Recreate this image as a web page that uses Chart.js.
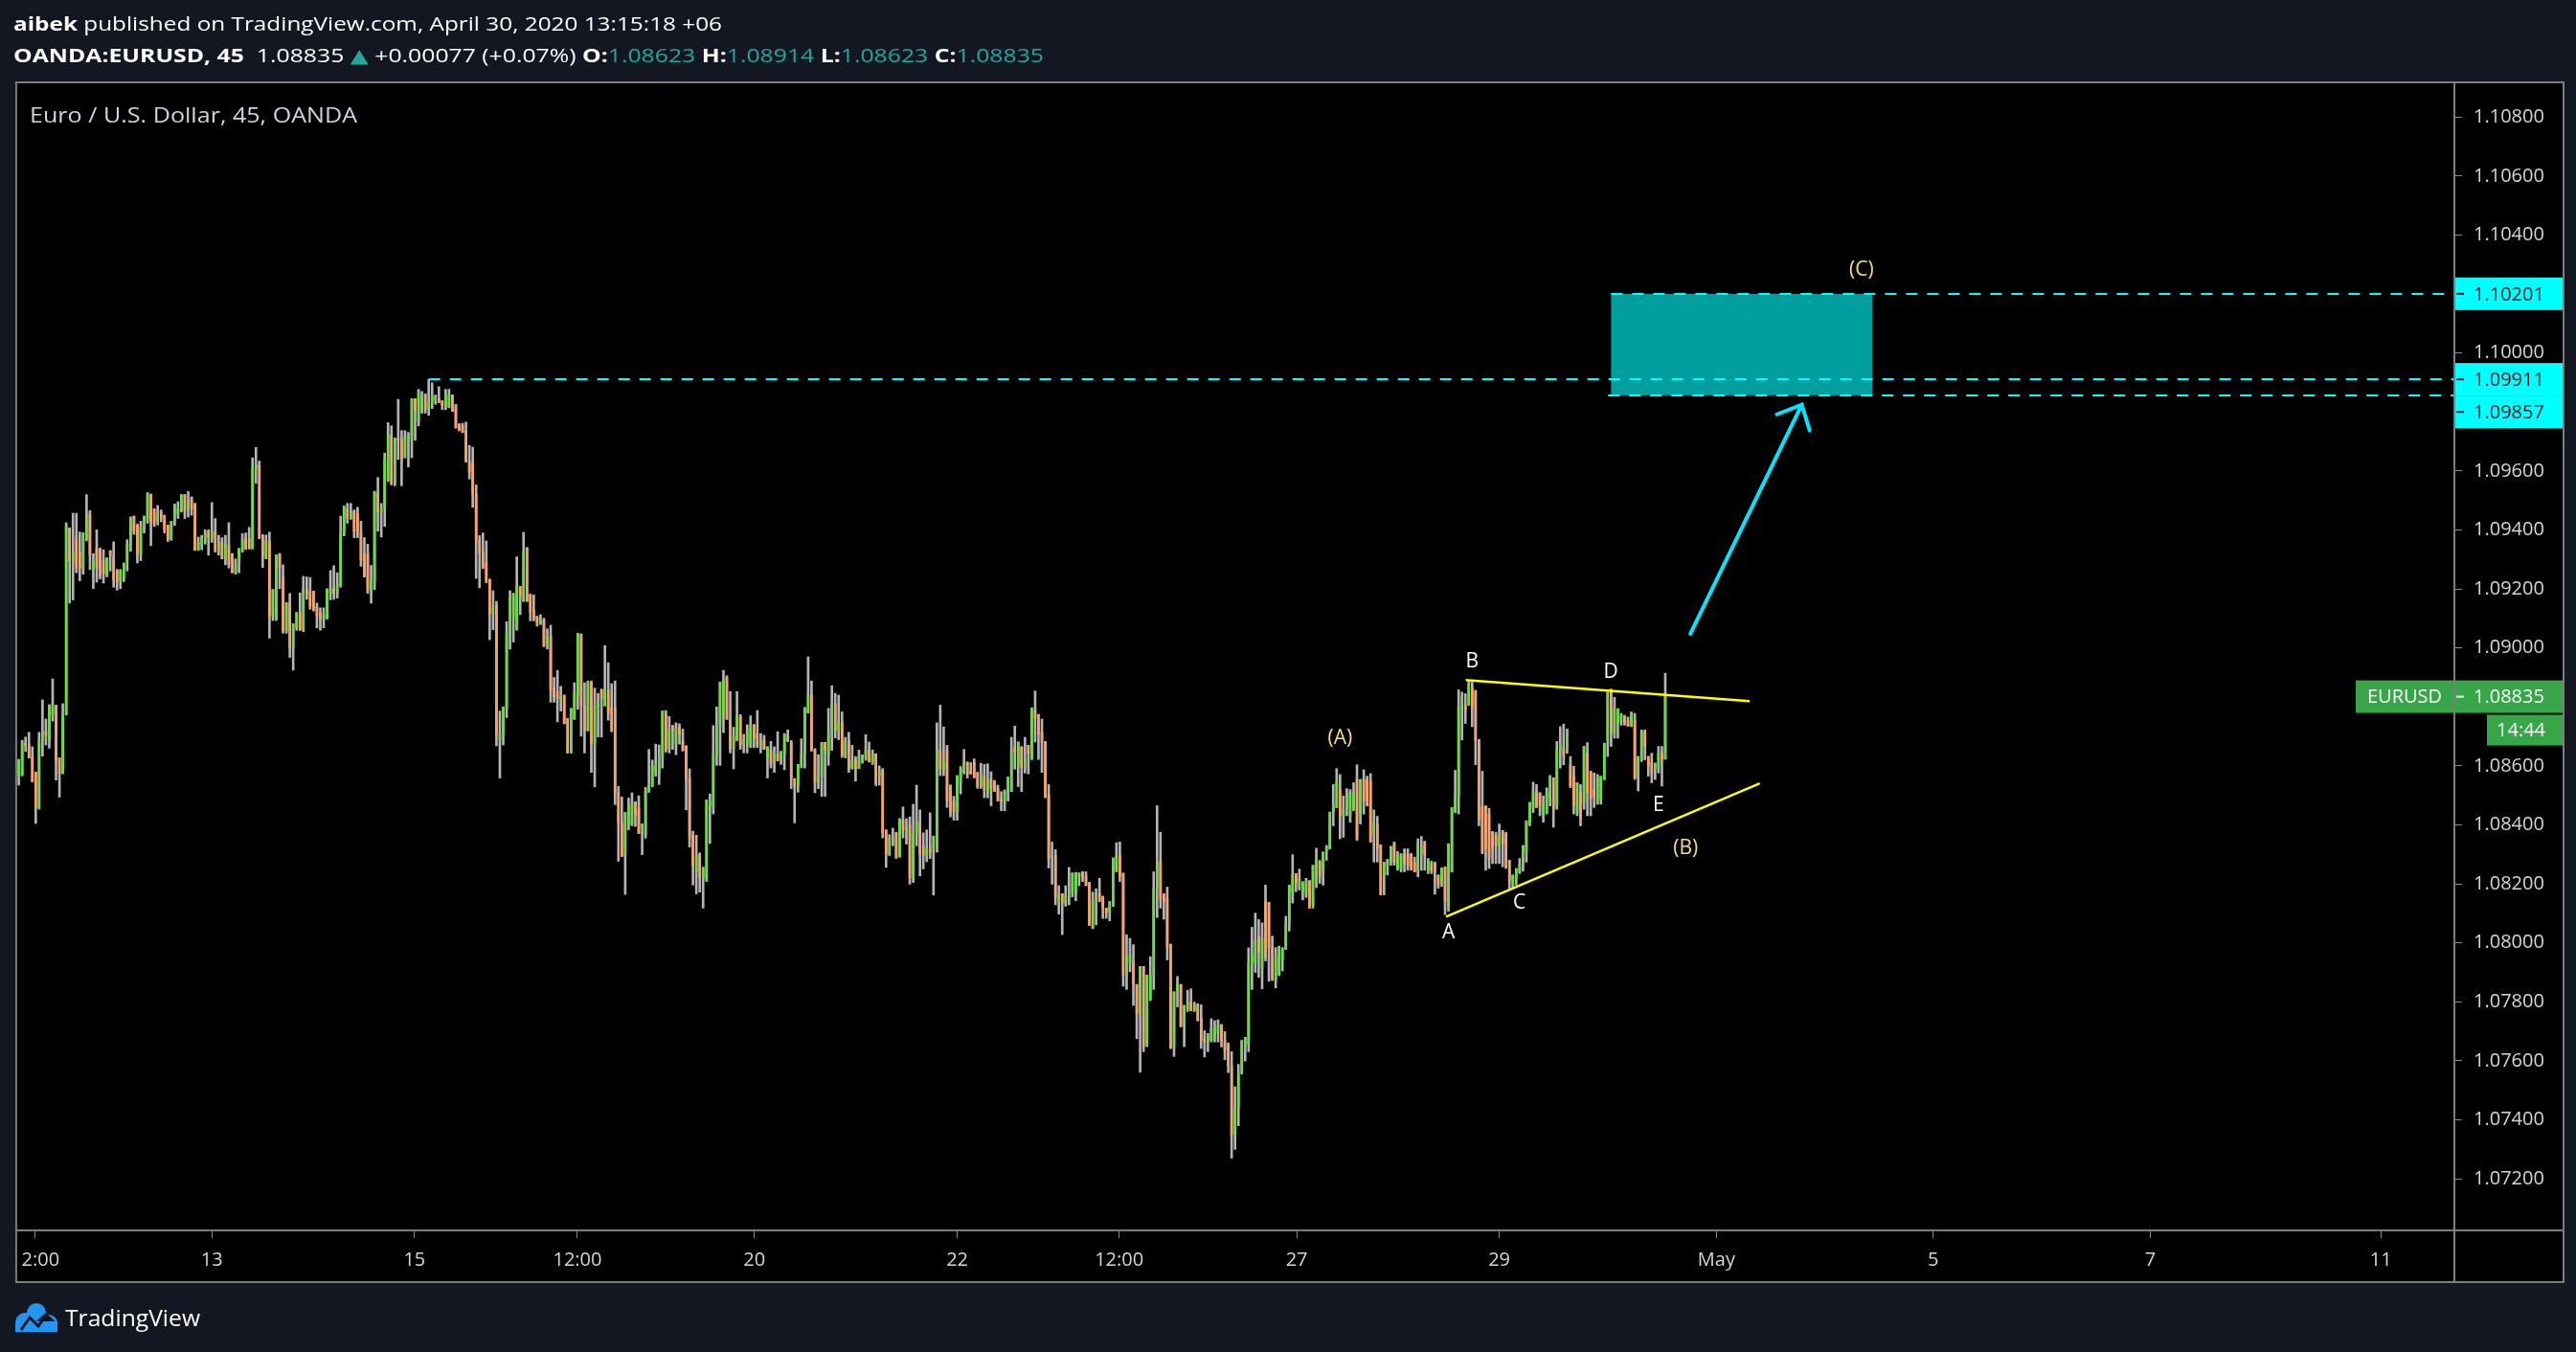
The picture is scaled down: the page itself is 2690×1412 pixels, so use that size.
<!DOCTYPE html>
<html>
<head>
<meta charset="utf-8">
<script src="https://cdn.jsdelivr.net/npm/chart.js@4.4.1/dist/chart.umd.min.js"></script>
<style>
html,body{margin:0;padding:0;background:#131722;overflow:hidden}
canvas{display:block}
</style>
</head>
<body>
<canvas id="chart" width="2690" height="1412"></canvas>
<script>
// EURUSD 45 min bars, OANDA (one entry per bar)
const opens = [
1.08573,1.08570,1.08676,1.08671,1.08633,1.08579,1.08454,1.08687,1.08719,1.08687,
1.08773,1.08806,1.08627,1.08575,1.08773,1.09407,1.09293,1.09374,1.09325,1.09271,
1.09369,1.09455,1.09266,1.09336,1.09338,1.09298,1.09250,1.09330,1.09309,1.09266,
1.09228,1.09239,1.09293,1.09347,1.09447,1.09417,1.09320,1.09412,1.09434,1.09520,
1.09472,1.09428,1.09461,1.09450,1.09417,1.09369,1.09428,1.09455,1.09466,1.09520,
1.09477,1.09512,1.09490,1.09331,1.09352,1.09358,1.09396,1.09374,1.09396,1.09331,
1.09358,1.09304,1.09347,1.09320,1.09255,1.09298,1.09328,1.09371,1.09371,1.09336,
1.09609,1.09620,1.09380,1.09304,1.09363,1.09109,1.09098,1.09320,1.09241,1.09060,
1.09152,1.09001,1.09071,1.09120,1.09066,1.09201,1.09190,1.09193,1.09141,1.09120,
1.09098,1.09104,1.09185,1.09201,1.09185,1.09212,1.09390,1.09472,1.09439,1.09461,
1.09455,1.09390,1.09320,1.09320,1.09196,1.09228,1.09526,1.09461,1.09477,1.09569,
1.09720,1.09558,1.09710,1.09707,1.09645,1.09704,1.09710,1.09845,1.09769,1.09812,
1.09861,1.09812,1.09834,1.09838,1.09846,1.09838,1.09820,1.09817,1.09858,1.09822,
1.09760,1.09754,1.09736,1.09633,1.09627,1.09521,1.09365,1.09327,1.09291,1.09233,
1.09116,1.09146,1.08689,1.08707,1.08798,1.09044,1.09104,1.09064,1.09209,1.09158,
1.09339,1.09182,1.09125,1.09107,1.09080,1.09092,1.09014,1.09038,1.08864,1.08852,
1.08824,1.08840,1.08761,1.08644,1.08758,1.08840,1.09044,1.08804,1.08719,1.08882,
1.08674,1.08798,1.08860,1.08804,1.08858,1.08798,1.08798,1.08509,1.08407,1.08299,
1.08401,1.08401,1.08477,1.08455,1.08389,1.08365,1.08511,1.08533,1.08581,1.08575,
1.08629,1.08774,1.08659,1.08737,1.08674,1.08731,1.08683,1.08668,1.08557,1.08365,
1.08242,1.08299,1.08220,1.08214,1.08467,1.08461,1.08635,1.08737,1.08774,1.08900,
1.08756,1.08659,1.08686,1.08768,1.08671,1.08677,1.08665,1.08740,1.08707,1.08671,
1.08687,1.08629,1.08653,1.08617,1.08641,1.08623,1.08641,1.08701,1.08680,1.08557,
1.08533,1.08599,1.08641,1.08780,1.08840,1.08653,1.08545,1.08563,1.08680,1.08641,
1.08707,1.08810,1.08719,1.08749,1.08632,1.08686,1.08591,1.08622,1.08591,1.08624,
1.08627,1.08654,1.08607,1.08641,1.08567,1.08584,1.08383,1.08297,1.08340,1.08373,
1.08291,1.08416,1.08362,1.08400,1.08221,1.08373,1.08407,1.08329,1.08295,1.08324,
1.08324,1.08308,1.08654,1.08589,1.08654,1.08535,1.08481,1.08448,1.08546,1.08578,
1.08613,1.08580,1.08611,1.08578,1.08530,1.08565,1.08513,1.08554,1.08546,1.08524,
1.08486,1.08481,1.08513,1.08513,1.08665,1.08600,1.08665,1.08594,1.08670,1.08622,
1.08789,1.08773,1.08714,1.08683,1.08502,1.08288,1.08297,1.08140,1.08167,1.08135,
1.08156,1.08172,1.08167,1.08227,1.08241,1.08227,1.08205,1.08053,1.08140,1.08167,
1.08158,1.08118,1.08102,1.08124,1.08243,1.08297,1.08234,1.07891,1.07934,1.07934,
1.07859,1.07761,1.07920,1.07653,1.07810,1.07891,1.08183,1.08275,1.08167,1.08151,
1.07994,1.07648,1.07837,1.07859,1.07718,1.07777,1.07799,1.07772,1.07790,1.07745,
1.07675,1.07669,1.07669,1.07680,1.07696,1.07723,1.07669,1.07660,1.07583,1.07350,
1.07440,1.07561,1.07647,1.07658,1.07929,1.07930,1.08023,1.07917,1.08140,1.08135,
1.07984,1.07872,1.07894,1.07945,1.07978,1.08062,1.08168,1.08235,1.08185,1.08174,
1.08163,1.08211,1.08129,1.08207,1.08274,1.08246,1.08314,1.08319,1.08442,1.08459,
1.08520,1.08431,1.08453,1.08431,1.08453,1.08554,1.08431,1.08554,1.08554,1.08548,
1.08369,1.08403,1.08330,1.08230,1.08263,1.08274,1.08336,1.08252,1.08252,1.08302,
1.08302,1.08302,1.08274,1.08246,1.08302,1.08344,1.08246,1.08269,1.08269,1.08230,
1.08207,1.08258,1.08118,1.08241,1.08442,1.08498,1.08800,1.08806,1.08806,1.08867,
1.08856,1.08688,1.08464,1.08464,1.08437,1.08377,1.08364,1.08330,1.08381,1.08369,
1.08280,1.08196,1.08219,1.08239,1.08263,1.08308,1.08409,1.08459,1.08515,1.08509,
1.08437,1.08442,1.08487,1.08560,1.08464,1.08655,1.08660,1.08655,1.08604,1.08565,
1.08442,1.08509,1.08476,1.08643,1.08582,1.08520,1.08476,1.08487,1.08554,1.08688,
1.08856,1.08710,1.08744,1.08750,1.08766,1.08755,1.08738,1.08755,1.08560,1.08621,
1.08716,1.08632,1.08610,1.08588,1.08593,1.08643,1.08623];

const highs = [
1.08622,1.08687,1.08698,1.08714,1.08665,1.08579,1.08714,1.08824,1.08759,1.08808,
1.08895,1.08806,1.08627,1.08811,1.09425,1.09407,1.09457,1.09457,1.09393,1.09390,
1.09520,1.09466,1.09320,1.09401,1.09338,1.09333,1.09306,1.09330,1.09360,1.09266,
1.09266,1.09288,1.09367,1.09444,1.09447,1.09420,1.09430,1.09447,1.09526,1.09522,
1.09472,1.09483,1.09468,1.09450,1.09417,1.09430,1.09488,1.09496,1.09520,1.09520,
1.09531,1.09512,1.09490,1.09376,1.09382,1.09401,1.09401,1.09493,1.09439,1.09382,
1.09374,1.09382,1.09425,1.09320,1.09302,1.09338,1.09388,1.09390,1.09409,1.09645,
1.09680,1.09634,1.09385,1.09383,1.09393,1.09198,1.09315,1.09320,1.09282,1.09154,
1.09185,1.09082,1.09120,1.09187,1.09243,1.09241,1.09239,1.09193,1.09152,1.09136,
1.09136,1.09201,1.09263,1.09279,1.09255,1.09447,1.09482,1.09490,1.09490,1.09468,
1.09477,1.09430,1.09374,1.09352,1.09280,1.09531,1.09578,1.09490,1.09661,1.09764,
1.09753,1.09712,1.09843,1.09737,1.09737,1.09731,1.09845,1.09845,1.09877,1.09870,
1.09861,1.09911,1.09899,1.09858,1.09886,1.09838,1.09877,1.09877,1.09858,1.09826,
1.09760,1.09762,1.09766,1.09687,1.09681,1.09553,1.09381,1.09390,1.09363,1.09233,
1.09194,1.09158,1.08786,1.08800,1.09089,1.09194,1.09186,1.09309,1.09209,1.09392,
1.09341,1.09182,1.09180,1.09107,1.09113,1.09101,1.09065,1.09077,1.08900,1.08924,
1.08870,1.08840,1.08761,1.08795,1.08882,1.09050,1.09048,1.08882,1.08888,1.08888,
1.08864,1.08846,1.08860,1.09008,1.08950,1.08879,1.08888,1.08531,1.08495,1.08443,
1.08491,1.08509,1.08479,1.08499,1.08403,1.08527,1.08656,1.08620,1.08674,1.08671,
1.08786,1.08788,1.08768,1.08737,1.08746,1.08743,1.08725,1.08668,1.08590,1.08379,
1.08365,1.08305,1.08256,1.08485,1.08505,1.08737,1.08800,1.08885,1.08924,1.08906,
1.08852,1.08731,1.08852,1.08774,1.08707,1.08740,1.08770,1.08740,1.08788,1.08710,
1.08704,1.08665,1.08683,1.08665,1.08716,1.08650,1.08710,1.08722,1.08686,1.08557,
1.08605,1.08692,1.08798,1.08970,1.08888,1.08659,1.08638,1.08680,1.08680,1.08795,
1.08872,1.08846,1.08840,1.08783,1.08697,1.08714,1.08670,1.08632,1.08654,1.08638,
1.08706,1.08681,1.08654,1.08641,1.08600,1.08591,1.08383,1.08367,1.08389,1.08375,
1.08421,1.08461,1.08421,1.08427,1.08470,1.08535,1.08451,1.08373,1.08383,1.08441,
1.08362,1.08746,1.08806,1.08732,1.08670,1.08535,1.08497,1.08567,1.08598,1.08656,
1.08613,1.08611,1.08624,1.08578,1.08609,1.08605,1.08607,1.08580,1.08551,1.08535,
1.08513,1.08519,1.08562,1.08697,1.08735,1.08681,1.08665,1.08697,1.08670,1.08797,
1.08854,1.08775,1.08759,1.08683,1.08537,1.08342,1.08316,1.08194,1.08167,1.08194,
1.08256,1.08237,1.08239,1.08237,1.08241,1.08241,1.08205,1.08172,1.08183,1.08219,
1.08158,1.08118,1.08140,1.08288,1.08340,1.08342,1.08237,1.08028,1.08015,1.07994,
1.07859,1.07920,1.07920,1.07891,1.07953,1.08241,1.08465,1.08375,1.08167,1.08189,
1.07996,1.07834,1.07886,1.07859,1.07788,1.07839,1.07844,1.07799,1.07794,1.07790,
1.07702,1.07693,1.07743,1.07736,1.07739,1.07723,1.07699,1.07660,1.07631,1.07512,
1.07588,1.07669,1.07680,1.07983,1.08053,1.08101,1.08079,1.08068,1.08196,1.08138,
1.08023,1.07984,1.07989,1.07984,1.08090,1.08196,1.08299,1.08235,1.08250,1.08207,
1.08219,1.08211,1.08263,1.08321,1.08280,1.08308,1.08330,1.08444,1.08537,1.08591,
1.08571,1.08498,1.08523,1.08520,1.08543,1.08604,1.08554,1.08587,1.08565,1.08574,
1.08451,1.08429,1.08333,1.08274,1.08283,1.08327,1.08342,1.08310,1.08302,1.08319,
1.08319,1.08302,1.08291,1.08353,1.08361,1.08344,1.08286,1.08277,1.08274,1.08230,
1.08254,1.08258,1.08336,1.08459,1.08585,1.08858,1.08850,1.08845,1.08889,1.08884,
1.08856,1.08690,1.08582,1.08464,1.08456,1.08377,1.08375,1.08403,1.08381,1.08375,
1.08280,1.08230,1.08252,1.08286,1.08330,1.08414,1.08476,1.08545,1.08537,1.08509,
1.08498,1.08526,1.08567,1.08560,1.08683,1.08733,1.08742,1.08725,1.08632,1.08599,
1.08543,1.08537,1.08666,1.08679,1.08582,1.08576,1.08571,1.08565,1.08677,1.08850,
1.08861,1.08833,1.08794,1.08778,1.08772,1.08766,1.08783,1.08778,1.08632,1.08722,
1.08722,1.08632,1.08643,1.08610,1.08666,1.08666,1.08914];

const lows = [
1.08535,1.08566,1.08649,1.08627,1.08546,1.08405,1.08454,1.08633,1.08671,1.08660,
1.08752,1.08552,1.08494,1.08573,1.08773,1.09152,1.09163,1.09255,1.09228,1.09250,
1.09363,1.09266,1.09201,1.09223,1.09234,1.09220,1.09241,1.09261,1.09206,1.09196,
1.09201,1.09225,1.09261,1.09328,1.09385,1.09288,1.09296,1.09390,1.09423,1.09347,
1.09412,1.09417,1.09428,1.09390,1.09361,1.09365,1.09415,1.09439,1.09461,1.09439,
1.09444,1.09450,1.09331,1.09331,1.09333,1.09352,1.09315,1.09358,1.09325,1.09315,
1.09302,1.09282,1.09271,1.09255,1.09250,1.09255,1.09325,1.09334,1.09336,1.09336,
1.09558,1.09371,1.09273,1.09302,1.09033,1.09093,1.09093,1.09201,1.09050,1.09050,
1.08968,1.08925,1.09060,1.09060,1.09055,1.09165,1.09131,1.09125,1.09068,1.09060,
1.09068,1.09098,1.09163,1.09165,1.09169,1.09206,1.09380,1.09423,1.09436,1.09374,
1.09374,1.09277,1.09241,1.09185,1.09152,1.09198,1.09396,1.09376,1.09412,1.09564,
1.09553,1.09550,1.09639,1.09550,1.09645,1.09614,1.09645,1.09704,1.09753,1.09796,
1.09796,1.09789,1.09812,1.09826,1.09832,1.09808,1.09808,1.09814,1.09802,1.09745,
1.09736,1.09730,1.09630,1.09573,1.09477,1.09236,1.09204,1.09269,1.09221,1.09028,
1.09062,1.08668,1.08559,1.08671,1.08764,1.08996,1.09020,1.09060,1.09113,1.09158,
1.09158,1.09092,1.09092,1.09074,1.09080,1.09004,1.08996,1.08816,1.08816,1.08749,
1.08786,1.08743,1.08644,1.08644,1.08758,1.08792,1.08701,1.08644,1.08719,1.08578,
1.08529,1.08698,1.08698,1.08804,1.08755,1.08716,1.08469,1.08277,1.08293,1.08164,
1.08383,1.08397,1.08395,1.08371,1.08299,1.08355,1.08511,1.08529,1.08565,1.08537,
1.08593,1.08647,1.08644,1.08656,1.08638,1.08674,1.08650,1.08451,1.08325,1.08196,
1.08166,1.08172,1.08118,1.08208,1.08337,1.08437,1.08602,1.08602,1.08713,1.08758,
1.08644,1.08590,1.08686,1.08656,1.08644,1.08644,1.08662,1.08662,1.08662,1.08644,
1.08656,1.08559,1.08593,1.08578,1.08617,1.08605,1.08587,1.08683,1.08523,1.08407,
1.08511,1.08593,1.08593,1.08780,1.08650,1.08509,1.08523,1.08497,1.08497,1.08602,
1.08653,1.08695,1.08689,1.08629,1.08627,1.08578,1.08589,1.08548,1.08591,1.08609,
1.08619,1.08613,1.08605,1.08533,1.08535,1.08356,1.08256,1.08297,1.08329,1.08286,
1.08291,1.08356,1.08335,1.08199,1.08205,1.08329,1.08227,1.08251,1.08275,1.08286,
1.08162,1.08308,1.08567,1.08567,1.08459,1.08427,1.08416,1.08416,1.08505,1.08573,
1.08559,1.08573,1.08559,1.08524,1.08524,1.08492,1.08492,1.08465,1.08513,1.08481,
1.08448,1.08448,1.08481,1.08513,1.08589,1.08530,1.08513,1.08576,1.08573,1.08622,
1.08681,1.08622,1.08578,1.08492,1.08254,1.08199,1.08129,1.08097,1.08028,1.08124,
1.08129,1.08156,1.08143,1.08194,1.08208,1.08194,1.08059,1.08048,1.08061,1.08140,
1.08083,1.08083,1.08075,1.08124,1.08241,1.08208,1.07853,1.07842,1.07902,1.07788,
1.07675,1.07561,1.07631,1.07648,1.07804,1.07842,1.08086,1.08118,1.08080,1.07942,
1.07642,1.07615,1.07783,1.07715,1.07648,1.07767,1.07769,1.07767,1.07736,1.07642,
1.07613,1.07631,1.07664,1.07664,1.07664,1.07647,1.07604,1.07560,1.07270,1.07300,
1.07380,1.07555,1.07599,1.07631,1.07842,1.07900,1.07883,1.07844,1.07939,1.07870,
1.07872,1.07847,1.07889,1.07905,1.07978,1.08040,1.08135,1.08174,1.08179,1.08146,
1.08154,1.08118,1.08118,1.08187,1.08202,1.08196,1.08280,1.08319,1.08397,1.08459,
1.08353,1.08358,1.08431,1.08409,1.08448,1.08347,1.08403,1.08437,1.08464,1.08342,
1.08274,1.08274,1.08163,1.08163,1.08230,1.08263,1.08263,1.08246,1.08241,1.08241,
1.08246,1.08246,1.08241,1.08224,1.08246,1.08246,1.08235,1.08235,1.08165,1.08185,
1.08191,1.08096,1.08107,1.08241,1.08442,1.08437,1.08688,1.08744,1.08806,1.08733,
1.08604,1.08397,1.08302,1.08246,1.08252,1.08269,1.08269,1.08269,1.08258,1.08253,
1.08185,1.08187,1.08196,1.08235,1.08243,1.08274,1.08397,1.08442,1.08459,1.08431,
1.08409,1.08437,1.08464,1.08392,1.08453,1.08593,1.08604,1.08643,1.08526,1.08437,
1.08431,1.08397,1.08453,1.08431,1.08431,1.08459,1.08470,1.08470,1.08554,1.08632,
1.08666,1.08694,1.08694,1.08738,1.08738,1.08735,1.08733,1.08554,1.08515,1.08615,
1.08621,1.08565,1.08543,1.08554,1.08576,1.08532,1.08623];

const closes = [
1.08622,1.08681,1.08667,1.08627,1.08546,1.08460,1.08687,1.08719,1.08703,1.08801,
1.08806,1.08617,1.08575,1.08773,1.09412,1.09293,1.09325,1.09271,1.09271,1.09390,
1.09450,1.09315,1.09293,1.09271,1.09244,1.09250,1.09304,1.09315,1.09228,1.09223,
1.09261,1.09288,1.09352,1.09444,1.09396,1.09315,1.09412,1.09447,1.09526,1.09428,
1.09423,1.09455,1.09439,1.09401,1.09369,1.09428,1.09486,1.09472,1.09520,1.09466,
1.09499,1.09472,1.09331,1.09358,1.09374,1.09390,1.09374,1.09390,1.09331,1.09358,
1.09302,1.09352,1.09282,1.09255,1.09288,1.09336,1.09369,1.09336,1.09336,1.09612,
1.09620,1.09371,1.09309,1.09363,1.09109,1.09198,1.09315,1.09271,1.09060,1.09154,
1.09001,1.09082,1.09120,1.09060,1.09201,1.09185,1.09141,1.09131,1.09109,1.09098,
1.09114,1.09196,1.09201,1.09185,1.09217,1.09390,1.09477,1.09439,1.09466,1.09396,
1.09390,1.09298,1.09241,1.09196,1.09228,1.09531,1.09461,1.09477,1.09639,1.09726,
1.09558,1.09712,1.09704,1.09639,1.09720,1.09715,1.09845,1.09807,1.09867,1.09856,
1.09807,1.09832,1.09856,1.09850,1.09832,1.09822,1.09862,1.09858,1.09802,1.09748,
1.09738,1.09732,1.09633,1.09597,1.09519,1.09363,1.09321,1.09273,1.09228,1.09116,
1.09140,1.08707,1.08707,1.08800,1.09048,1.09170,1.09182,1.09209,1.09176,1.09327,
1.09158,1.09122,1.09101,1.09084,1.09098,1.09008,1.09038,1.08858,1.08834,1.08828,
1.08836,1.08743,1.08644,1.08795,1.08846,1.09050,1.08804,1.08719,1.08882,1.08674,
1.08804,1.08822,1.08828,1.08858,1.08780,1.08719,1.08509,1.08407,1.08293,1.08443,
1.08467,1.08473,1.08431,1.08371,1.08403,1.08515,1.08533,1.08599,1.08602,1.08629,
1.08786,1.08656,1.08725,1.08719,1.08728,1.08707,1.08653,1.08557,1.08359,1.08262,
1.08293,1.08220,1.08256,1.08485,1.08479,1.08641,1.08737,1.08882,1.08894,1.08758,
1.08659,1.08701,1.08768,1.08671,1.08689,1.08725,1.08737,1.08695,1.08671,1.08687,
1.08656,1.08665,1.08605,1.08641,1.08617,1.08644,1.08707,1.08683,1.08557,1.08533,
1.08605,1.08641,1.08798,1.08840,1.08653,1.08545,1.08563,1.08680,1.08653,1.08707,
1.08810,1.08719,1.08749,1.08635,1.08686,1.08594,1.08622,1.08591,1.08630,1.08635,
1.08654,1.08616,1.08641,1.08540,1.08584,1.08373,1.08302,1.08356,1.08349,1.08291,
1.08421,1.08383,1.08394,1.08221,1.08373,1.08411,1.08302,1.08297,1.08319,1.08308,
1.08362,1.08654,1.08589,1.08613,1.08481,1.08443,1.08443,1.08567,1.08589,1.08611,
1.08573,1.08573,1.08562,1.08530,1.08573,1.08519,1.08554,1.08524,1.08513,1.08481,
1.08481,1.08513,1.08562,1.08654,1.08649,1.08681,1.08594,1.08627,1.08643,1.08797,
1.08762,1.08708,1.08681,1.08494,1.08286,1.08297,1.08156,1.08162,1.08135,1.08162,
1.08172,1.08237,1.08237,1.08237,1.08221,1.08194,1.08059,1.08140,1.08167,1.08140,
1.08118,1.08102,1.08140,1.08288,1.08294,1.08227,1.07891,1.07956,1.07961,1.07859,
1.07761,1.07920,1.07648,1.07891,1.07891,1.08183,1.08275,1.08145,1.08140,1.07985,
1.07642,1.07834,1.07859,1.07718,1.07788,1.07799,1.07772,1.07790,1.07736,1.07669,
1.07664,1.07685,1.07710,1.07710,1.07723,1.07669,1.07637,1.07583,1.07350,1.07440,
1.07561,1.07669,1.07680,1.07929,1.07961,1.08010,1.07967,1.08017,1.07950,1.07984,
1.07878,1.07950,1.07984,1.07978,1.08062,1.08196,1.08230,1.08202,1.08219,1.08207,
1.08210,1.08118,1.08263,1.08288,1.08224,1.08308,1.08330,1.08442,1.08470,1.08548,
1.08431,1.08453,1.08504,1.08509,1.08509,1.08353,1.08554,1.08481,1.08470,1.08342,
1.08409,1.08319,1.08163,1.08269,1.08283,1.08327,1.08274,1.08297,1.08302,1.08269,
1.08263,1.08252,1.08241,1.08336,1.08330,1.08297,1.08280,1.08246,1.08241,1.08196,
1.08254,1.08140,1.08336,1.08459,1.08498,1.08800,1.08833,1.08789,1.08878,1.08800,
1.08688,1.08420,1.08308,1.08319,1.08286,1.08319,1.08330,1.08364,1.08336,1.08253,
1.08207,1.08230,1.08252,1.08265,1.08330,1.08414,1.08476,1.08509,1.08459,1.08464,
1.08470,1.08509,1.08567,1.08453,1.08655,1.08671,1.08632,1.08725,1.08532,1.08464,
1.08543,1.08420,1.08666,1.08509,1.08487,1.08498,1.08560,1.08565,1.08677,1.08850,
1.08710,1.08794,1.08794,1.08772,1.08744,1.08735,1.08778,1.08560,1.08632,1.08716,
1.08666,1.08599,1.08576,1.08604,1.08643,1.08623,1.08835];

// time axis: bar index of each label, and its text
const timeTickIdx  = [4.8, 57.0, 116.8, 164.9, 217.1, 277.0, 324.8, 377.2, 437.0, 501.1, 565.1, 629.2, 697.2];
const timeTickText = ['12:00', '13', '15', '12:00', '20', '22', '12:00', '27', '29', 'May', '5', '7', '11'];
const priceTicks = [1.072, 1.074, 1.076, 1.078, 1.080, 1.082, 1.084, 1.086, 1.088, 1.090,
                    1.092, 1.094, 1.096, 1.098, 1.100, 1.102, 1.104, 1.106, 1.108];

// drawings (bar index, price)
const zoneX = [470.0, 547.05];
const zonePrices = [1.10201, 1.09857];
const levelPrices = [1.10201, 1.09911, 1.09857];
const levelStart = [470.0, 121, 469.1];
const triUpper = [[427.1, 1.08891], [510.9, 1.08820]];
const triLower = [[421.3, 1.08089], [513.9, 1.08541]];
const arrowPath = [[493.4, 1.09048], [526.3, 1.09825]];
const waveText = ['A', 'B', 'C', 'D', 'E'];
const waveX = [422.0, 429.0, 442.9, 469.9, 484.0];
const waveY = [1.08034, 1.08952, 1.08135, 1.08919, 1.08468];
const degreeText = ['(A)', '(B)', '(C)'];
const degreeX = [390.0, 492.0, 543.9];
const degreeY = [1.08693, 1.08321, 1.10283];
const lastPrice = 1.08835;
const countdown = '14:44';

const UP = '#6fd94a', DOWN = '#f5a36f', WICK = '#b4b4b4';
const FRAME = '#7d7d7d', AXIS_TEXT = '#d6d6d6';
const CYAN = '#00ffff', GREEN_LBL = '#37a548', TEAL = '#26a69a';
const FONT = '"Open Sans", "DejaVu Sans", sans-serif';

const n = Math.min(opens.length, highs.length, lows.length, closes.length);
const wickData = [], bodyData = [], bodyColors = [];
for (let i = 0; i < n; i++) {
  const o = opens[i], c = closes[i];
  wickData.push({x: i, y: [Math.min(lows[i], o, c), Math.max(highs[i], o, c)]});
  bodyData.push({x: i, y: [Math.min(o, c), Math.max(o, c)]});
  bodyColors.push(c >= o ? UP : DOWN);
}

function drawParts(c, parts, x, y, width) {
  let total = 0;
  parts.forEach(p => { c.font = p.font; p.w = c.measureText(p.text).width; total += p.w; });
  const k = width ? width / total : 1;
  c.save();
  c.translate(x, y);
  c.scale(k, 1);
  c.textAlign = 'left';
  c.textBaseline = 'alphabetic';
  let cx = 0;
  parts.forEach(p => { c.font = p.font; c.fillStyle = p.color; c.fillText(p.text, cx, 0); cx += p.w; });
  c.restore();
}

const backdrop = {
  id: 'backdrop',
  beforeDraw(chart) {
    const c = chart.ctx, a = chart.chartArea;
    c.save();
    c.fillStyle = '#131722';
    c.fillRect(0, 0, chart.width, chart.height);
    c.fillStyle = '#000000';
    c.fillRect(a.left, a.top, chart.scales.y.right - a.left, chart.scales.x.bottom - a.top);
    c.restore();
  }
};

const drawings = {
  id: 'drawings',
  afterDatasetsDraw(chart) {
    const c = chart.ctx, xs = chart.scales.x, ys = chart.scales.y, a = chart.chartArea;
    const px = v => xs.getPixelForValue(v), py = v => ys.getPixelForValue(v);
    c.save();
    c.beginPath();
    c.rect(a.left, a.top, a.right - a.left, a.bottom - a.top);
    c.clip();

    // target zone
    c.fillStyle = '#009f9f';
    c.fillRect(px(zoneX[0]), py(zonePrices[0]), px(zoneX[1]) - px(zoneX[0]), py(zonePrices[1]) - py(zonePrices[0]));

    // horizontal levels
    c.strokeStyle = CYAN;
    c.lineWidth = 2;
    c.setLineDash([12, 10]);
    levelPrices.forEach((p, i) => {
      const y = Math.round(py(p));
      c.beginPath();
      c.moveTo(px(levelStart[i]), y);
      c.lineTo(a.right, y);
      c.stroke();
    });
    c.setLineDash([]);

    // triangle
    c.strokeStyle = '#ffff00';
    c.lineWidth = 2.5;
    [triUpper, triLower].forEach(seg => {
      c.beginPath();
      c.moveTo(px(seg[0][0]), py(seg[0][1]));
      c.lineTo(px(seg[1][0]), py(seg[1][1]));
      c.stroke();
    });

    // arrow
    const x0 = px(arrowPath[0][0]), y0 = py(arrowPath[0][1]);
    const x1 = px(arrowPath[1][0]), y1 = py(arrowPath[1][1]);
    const ang = Math.atan2(y1 - y0, x1 - x0), head = 28, spread = Math.PI / 4.2;
    c.strokeStyle = '#00e6ff';
    c.lineWidth = 4;
    c.lineCap = 'round';
    c.beginPath();
    c.moveTo(x0, y0);
    c.lineTo(x1, y1);
    c.moveTo(x1 + head * Math.cos(ang + Math.PI - spread), y1 + head * Math.sin(ang + Math.PI - spread));
    c.lineTo(x1, y1);
    c.lineTo(x1 + head * Math.cos(ang + Math.PI + spread), y1 + head * Math.sin(ang + Math.PI + spread));
    c.stroke();

    // wave labels
    c.textAlign = 'center';
    c.textBaseline = 'middle';
    c.font = '21px ' + FONT;
    c.fillStyle = '#ffffff';
    waveText.forEach((t, i) => c.fillText(t, px(waveX[i]), py(waveY[i])));
    c.fillStyle = '#f3df82';
    degreeText.forEach((t, i) => c.fillText(t, px(degreeX[i]), py(degreeY[i])));
    c.restore();
  },
  afterDraw(chart) {
    const c = chart.ctx, xs = chart.scales.x, ys = chart.scales.y, a = chart.chartArea;
    const left = a.left, right = ys.right, top = a.top, bottom = xs.bottom;
    c.save();

    // the first time label is cut by the left edge
    c.fillStyle = '#131722';
    c.fillRect(0, a.bottom + 1, left, bottom - a.bottom - 1);
    c.fillStyle = '#000000';
    c.fillRect(left, a.bottom + 2, 4, bottom - a.bottom - 3);

    // frame
    c.strokeStyle = FRAME;
    c.lineWidth = 2;
    c.strokeRect(left, top, right - left, bottom - top);
    c.beginPath();
    c.moveTo(a.right, top); c.lineTo(a.right, bottom);
    c.moveTo(left, a.bottom); c.lineTo(right, a.bottom);
    c.stroke();

    // price labels on the axis
    const lblH = 34;
    const boxL = a.right + 1, boxW = right - a.right - 2;
    c.font = '20px ' + FONT;
    c.textBaseline = 'middle';
    let prevBottom = -1e9;
    levelPrices.slice().sort((p, q) => q - p).forEach(p => {
      let t = py(p) - lblH / 2;
      if (t < prevBottom) t = prevBottom;
      c.fillStyle = CYAN;
      c.fillRect(boxL, t, boxW, lblH);
      c.fillStyle = '#131722';
      c.fillRect(a.right + 2, t + lblH / 2 - 1, 8, 2);
      c.textAlign = 'left';
      c.fillText(p.toFixed(5), a.right + 20, t + lblH / 2 + 1);
      prevBottom = t + lblH;
    });
    function py(v) { return ys.getPixelForValue(v); }

    const ly = py(lastPrice) - lblH / 2;
    c.fillStyle = GREEN_LBL;
    c.fillRect(boxL, ly, boxW, lblH);
    c.fillRect(a.right - 103, ly, 102, lblH);
    c.fillRect(a.right + 34, ly + lblH + 2, right - a.right - 35, 32);
    c.fillStyle = '#ffffff';
    c.fillRect(a.right + 2, ly + lblH / 2 - 1, 8, 2);
    c.textAlign = 'left';
    c.fillText(lastPrice.toFixed(5), a.right + 20, ly + lblH / 2 + 1);
    c.textAlign = 'center';
    c.fillText('EURUSD', a.right - 52, ly + lblH / 2 + 1);
    c.textAlign = 'right';
    c.fillText(countdown, a.right + 95, ly + lblH + 19);

    // header
    drawParts(c, [
      {text: 'aibek', font: 'bold 20px ' + FONT, color: '#ffffff'},
      {text: ' published on TradingView.com, April 30, 2020 13:15:18 +06', font: '20px ' + FONT, color: '#ffffff'}
    ], 14, 32, 740);
    drawParts(c, [
      {text: 'OANDA:EURUSD, 45', font: 'bold 20px ' + FONT, color: '#ffffff'},
      {text: '  1.08835 ', font: '20px ' + FONT, color: '#ffffff'},
      {text: '\u25B2', font: '20px "DejaVu Sans", sans-serif', color: TEAL},
      {text: ' +0.00077 (+0.07%) ', font: '20px ' + FONT, color: '#ffffff'},
      {text: 'O:', font: 'bold 20px ' + FONT, color: '#ffffff'},
      {text: '1.08623', font: '20px ' + FONT, color: TEAL},
      {text: ' H:', font: 'bold 20px ' + FONT, color: '#ffffff'},
      {text: '1.08914', font: '20px ' + FONT, color: TEAL},
      {text: ' L:', font: 'bold 20px ' + FONT, color: '#ffffff'},
      {text: '1.08623', font: '20px ' + FONT, color: TEAL},
      {text: ' C:', font: 'bold 20px ' + FONT, color: '#ffffff'},
      {text: '1.08835', font: '20px ' + FONT, color: TEAL}
    ], 14, 65, 1076);
    drawParts(c, [{text: 'Euro / U.S. Dollar, 45, OANDA', font: '22px ' + FONT, color: '#d1d4dc'}], 31, 128, 342);

    // footer logo
    c.fillStyle = '#2196f3';
    c.beginPath();
    c.arc(38, 1371, 10, 0, Math.PI * 2);
    c.arc(26, 1381, 10, 0, Math.PI * 2);
    c.arc(51, 1382, 9, 0, Math.PI * 2);
    c.fill();
    c.fillRect(16, 1380, 44, 11);
    c.strokeStyle = '#131722';
    c.lineWidth = 3;
    c.beginPath();
    c.moveTo(22, 1389); c.lineTo(31, 1376); c.lineTo(40, 1385); c.lineTo(49, 1372);
    c.stroke();
    drawParts(c, [{text: 'TradingView', font: '24px ' + FONT, color: '#ffffff'}], 68, 1385, 141);
    c.restore();
  }
};

const n0 = 15.7, nLast = 1737.7;          // first / last bar centre on the page
const perBar = (nLast - n0) / (n - 1);
const xMin = -(n0 - 13) / perBar;
const xMax = xMin + (2563 - 13) / perBar;

new Chart(document.getElementById('chart'), {
  type: 'bar',
  data: {
    datasets: [
      {data: wickData, backgroundColor: WICK, barThickness: 2, grouped: false, order: 2},
      {data: bodyData, backgroundColor: bodyColors, barThickness: 2, grouped: false, minBarLength: 1, order: 1}
    ]
  },
  options: {
    responsive: false,
    animation: false,
    devicePixelRatio: 1,
    layout: {padding: {left: 13, right: 13, top: 86, bottom: 73}},
    plugins: {legend: {display: false}, tooltip: {enabled: false}},
    scales: {
      x: {
        type: 'linear',
        min: xMin,
        max: xMax,
        offset: false,
        border: {display: false},
        grid: {display: true, drawOnChartArea: false, drawTicks: true, tickLength: 8, color: '#8a8a8a', offset: false},
        ticks: {
          autoSkip: false, maxRotation: 0, padding: 11, color: AXIS_TEXT,
          font: {family: FONT, size: 20},
          callback: (v, i) => timeTickText[i]
        },
        afterBuildTicks: s => { s.ticks = timeTickIdx.map(v => ({value: v})); },
        afterFit: s => { s.height = 54; }
      },
      y: {
        position: 'right',
        min: 1.07025,
        max: 1.10918,
        border: {display: false},
        grid: {display: true, drawOnChartArea: false, drawTicks: true, tickLength: 8, color: '#8a8a8a'},
        ticks: {
          padding: 12, color: AXIS_TEXT,
          font: {family: FONT, size: 20},
          callback: v => Number(v).toFixed(5)
        },
        afterBuildTicks: s => { s.ticks = priceTicks.map(v => ({value: v})); },
        afterFit: s => { s.width = 114; }
      }
    }
  },
  plugins: [backdrop, drawings]
});
</script>
</body>
</html>
